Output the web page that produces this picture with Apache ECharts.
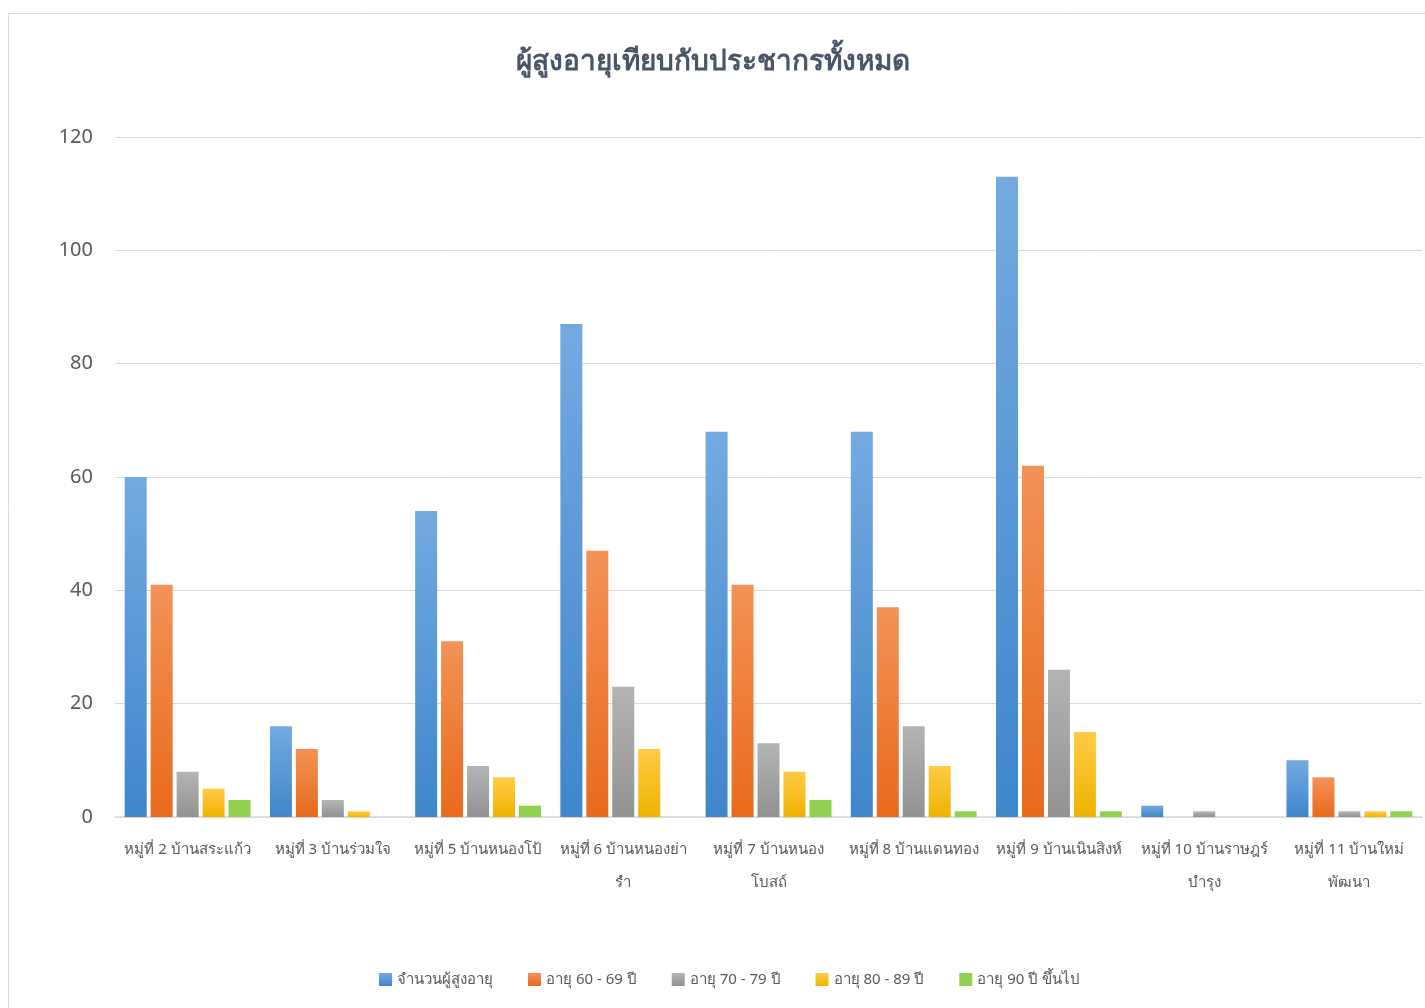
<!DOCTYPE html>
<html lang="th">
<head>
    <meta charset="UTF-8">
    <title>ผู้สูงอายุเทียบกับประชากรทั้งหมด</title>
    <script src="https://cdn.jsdelivr.net/npm/echarts@6/dist/echarts.min.js"></script>
    <style>
        body, html { padding: 0; margin: 0; background: #fff; }
        #chart-panel { width: 1425px; height: 1008px; }
    </style>
</head>
<body>
    <div id="chart-panel"></div>
    <script>
        // หมู่บ้าน
        var villages = [
            'หมู่ที่ 2 บ้านสระแก้ว',
            'หมู่ที่ 3 บ้านร่วมใจ',
            'หมู่ที่ 5 บ้านหนองโป้',
            'หมู่ที่ 6 บ้านหนองย่า\nรำ',
            'หมู่ที่ 7 บ้านหนอง\nโบสถ์',
            'หมู่ที่ 8 บ้านแดนทอง',
            'หมู่ที่ 9 บ้านเนินสิงห์',
            'หมู่ที่ 10 บ้านราษฎร์\nบำรุง',
            'หมู่ที่ 11 บ้านใหม่\nพัฒนา'
        ];
        var seriesNames = ['จำนวนผู้สูงอายุ', 'อายุ 60 - 69 ปี', 'อายุ 70 - 79 ปี', 'อายุ 80 - 89 ปี', 'อายุ 90 ปี ขึ้นไป'];
        var totalElderly = [60, 16, 54, 87, 68, 68, 113, 2, 10];
        var age60to69 = [41, 12, 31, 47, 41, 37, 62, 0, 7];
        var age70to79 = [8, 3, 9, 23, 13, 16, 26, 1, 1];
        var age80to89 = [5, 1, 7, 12, 8, 9, 15, 0, 1];
        var age90up = [3, 0, 2, 0, 3, 1, 1, 0, 1];
        var yTicks = [0, 20, 40, 60, 80, 100, 120];

        var seriesData = [totalElderly, age60to69, age70to79, age80to89, age90up];
        // สีไล่ระดับ บน -> ล่าง
        var colors = [
            ['#74aae0', '#3f86cb'],
            ['#f39257', '#e86a1c'],
            ['#b4b4b4', '#929292'],
            ['#ffcb47', '#eeb300'],
            ['#92d050', '#92d050']
        ];
        var font = "'Noto Sans', 'DejaVu Sans', sans-serif";

        function grad(c) {
            return new echarts.graphic.LinearGradient(0, 0, 0, 1, [
                { offset: 0, color: c[0] },
                { offset: 1, color: c[1] }
            ]);
        }

        var option = {
            backgroundColor: '#fff',
            animation: false,
            textStyle: { fontFamily: font },
            graphic: [{
                type: 'rect',
                shape: { x: 8.5, y: 13.5, width: 1430, height: 1010 },
                style: { fill: 'none', stroke: '#d9d9d9', lineWidth: 1 }
            }],
            title: {
                text: 'ผู้สูงอายุเทียบกับประชากรทั้งหมด',
                left: 'center',
                top: 43,
                textStyle: { fontSize: 28, fontWeight: 'bold', color: '#4a5568', fontFamily: font }
            },
            legend: {
                bottom: 16,
                left: 374,
                itemWidth: 13,
                itemHeight: 13,
                itemGap: 35,
                icon: 'rect',
                textStyle: { fontSize: 15, color: '#595959', fontFamily: font },
                data: seriesNames
            },
            grid: { left: 115, right: 3, top: 137, bottom: 191, containLabel: false },
            xAxis: {
                type: 'category',
                data: villages,
                axisLine: { lineStyle: { color: '#d9d9d9', width: 1.5 } },
                axisTick: { show: false },
                axisLabel: { fontSize: 15, color: '#595959', lineHeight: 33, margin: 16, interval: 0 }
            },
            yAxis: {
                type: 'value',
                min: yTicks[0],
                max: yTicks[yTicks.length - 1],
                interval: 20,
                axisLine: { show: false },
                axisTick: { show: false },
                splitLine: { lineStyle: { color: '#d9d9d9' } },
                axisLabel: { fontSize: 20, color: '#595959', margin: 22 }
            },
            series: seriesNames.map(function (name, i) {
                return {
                    name: name,
                    type: 'bar',
                    data: seriesData[i],
                    barWidth: 22,
                    barGap: '18%',
                    itemStyle: { color: grad(colors[i]) }
                };
            })
        };

        var chartVM = echarts.init(document.getElementById('chart-panel'));
        chartVM.setOption(option);
    </script>
</body>
</html>
